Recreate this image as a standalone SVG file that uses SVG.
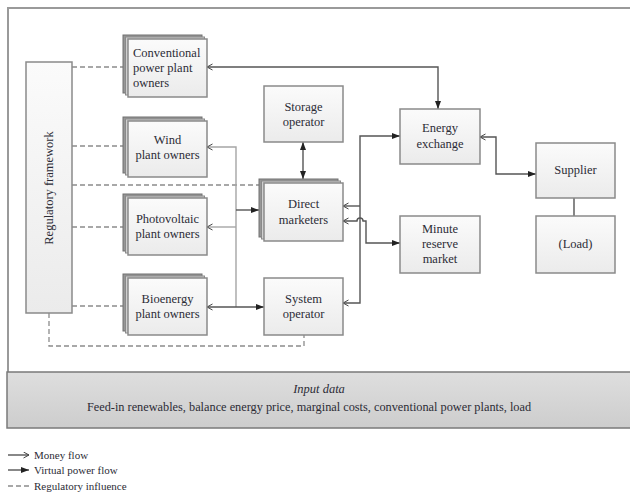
<svg xmlns="http://www.w3.org/2000/svg" width="630" height="495" viewBox="0 0 630 495">
<defs>
<linearGradient id="boxg" x1="0" y1="0" x2="0" y2="1">
<stop offset="0" stop-color="#fbfbfb"/><stop offset="1" stop-color="#ebebeb"/>
</linearGradient>
<linearGradient id="bandg" x1="0" y1="0" x2="0" y2="1">
<stop offset="0" stop-color="#dedede"/><stop offset="1" stop-color="#cdcdcd"/>
</linearGradient>
<marker id="af" markerUnits="userSpaceOnUse" markerWidth="10" markerHeight="8" refX="8" refY="3" orient="auto-start-reverse">
<path d="M0,0 L8,3 L0,6 z" fill="#222"/>
</marker>
<marker id="ao" markerUnits="userSpaceOnUse" markerWidth="10" markerHeight="8" refX="6.5" refY="3.5" orient="auto-start-reverse">
<path d="M1,0.5 L6.5,3.5 L1,6.5" fill="none" stroke="#444" stroke-width="1"/>
</marker>
<style>
.box{fill:url(#boxg);stroke:#8a8a8a;stroke-width:1.5}
.b1{fill:#979797;stroke:#707070;stroke-width:1}
.b2{fill:#cfcfcf;stroke:#8a8a8a;stroke-width:1}
text{font-family:"Liberation Serif","DejaVu Serif",serif;font-size:12.5px;fill:#2c2c36}
.c{text-anchor:middle}
.pw{fill:none;stroke:#555;stroke-width:1.4}
.mn{fill:none;stroke:#a5a5a5;stroke-width:1.4}
.rg{fill:none;stroke:#8c8c8c;stroke-width:1.3;stroke-dasharray:5,3}
</style>
</defs>
<rect x="0" y="0" width="630" height="495" fill="#fff"/>
<path d="M8,372 V8 H632" fill="none" stroke="#9a9a9a" stroke-width="2"/>

<g id="connectors">
<path class="rg" d="M72,67 H123"/>
<path class="rg" d="M72,146 H123"/>
<path class="rg" d="M72,185 H259"/>
<path class="rg" d="M72,227 H123"/>
<path class="rg" d="M72,306 H123"/>
<path class="rg" d="M49,313 V346 H304 V335"/>
<path class="pw" d="M207,67 H438 V109" marker-start="url(#ao)" marker-end="url(#af)"/>
<path class="pw" d="M303,142 V179" marker-start="url(#af)" marker-end="url(#af)"/>
<path class="mn" d="M207,147 H236 V307" marker-start="url(#ao)"/>
<path class="mn" d="M236,227 H207" marker-end="url(#ao)"/>
<path class="pw" d="M236,210 H259" marker-end="url(#af)"/>
<path class="pw" d="M207,307 H264" marker-start="url(#ao)" marker-end="url(#af)"/>
<path class="pw" d="M343,303 H360 V136 H400" marker-start="url(#ao)" marker-end="url(#af)"/>
<path class="pw" d="M360,206 H343" marker-end="url(#ao)"/>
<path class="pw" d="M343,221 H357 a3,3 0 0 1 6,0 H366 V243 H400" marker-start="url(#ao)" marker-end="url(#af)"/>
<path class="pw" d="M480,137 H496 V174 H536" marker-start="url(#ao)" marker-end="url(#af)"/>
<path class="pw" d="M574,198 V216"/>
</g>

<g id="regulatory">
<rect class="box" x="26" y="62" width="46" height="251"/>
<text class="c" transform="translate(53,188) rotate(-90)">Regulatory framework</text>
</g>

<g id="conventional">
<rect class="b1" x="123" y="35" width="79" height="58"/>
<rect class="b2" x="125.5" y="37" width="79" height="58"/>
<rect class="box" x="128" y="39" width="79" height="58"/>
<text x="133" y="57">Conventional</text>
<text x="133" y="72">power plant</text>
<text x="133" y="87">owners</text>
</g>

<g id="wind">
<rect class="b1" x="123" y="117" width="79" height="56"/>
<rect class="b2" x="125.5" y="119" width="79" height="56"/>
<rect class="box" x="128" y="121" width="79" height="56"/>
<text class="c" x="167.5" y="144">Wind</text>
<text class="c" x="167.5" y="159">plant owners</text>
</g>

<g id="photovoltaic">
<rect class="b1" x="123" y="194" width="79" height="57"/>
<rect class="b2" x="125.5" y="196" width="79" height="57"/>
<rect class="box" x="128" y="198" width="79" height="57"/>
<text class="c" x="167.5" y="223">Photovoltaic</text>
<text class="c" x="167.5" y="238">plant owners</text>
</g>

<g id="bioenergy">
<rect class="b1" x="123" y="274" width="79" height="57"/>
<rect class="b2" x="125.5" y="276" width="79" height="57"/>
<rect class="box" x="128" y="278" width="79" height="57"/>
<text class="c" x="167.5" y="303">Bioenergy</text>
<text class="c" x="167.5" y="318">plant owners</text>
</g>

<g id="storage">
<rect class="box" x="264" y="86" width="79" height="56"/>
<text class="c" x="303.5" y="111">Storage</text>
<text class="c" x="303.5" y="126">operator</text>
</g>

<g id="direct">
<rect class="b1" x="259" y="179" width="79" height="58"/>
<rect class="b2" x="261.5" y="181" width="79" height="58"/>
<rect class="box" x="264" y="183" width="79" height="58"/>
<text class="c" x="303.5" y="208">Direct</text>
<text class="c" x="303.5" y="224">marketers</text>
</g>

<g id="system">
<rect class="box" x="264" y="278" width="79" height="57"/>
<text class="c" x="303.5" y="303">System</text>
<text class="c" x="303.5" y="318">operator</text>
</g>

<g id="exchange">
<rect class="box" x="400" y="109" width="80" height="55"/>
<text class="c" x="440" y="132">Energy</text>
<text class="c" x="440" y="148">exchange</text>
</g>

<g id="minute">
<rect class="box" x="400" y="216" width="80" height="57"/>
<text class="c" x="440" y="233">Minute</text>
<text class="c" x="440" y="248">reserve</text>
<text class="c" x="440" y="263">market</text>
</g>

<g id="supplier">
<rect class="box" x="536" y="143" width="79" height="55"/>
<text class="c" x="575.5" y="174">Supplier</text>
</g>

<g id="load">
<rect class="box" x="536" y="216" width="79" height="57"/>
<text class="c" x="575.5" y="248">(Load)</text>
</g>

<g id="input">
<rect x="7" y="372" width="630" height="56" fill="url(#bandg)" stroke="#7a7a7a" stroke-width="1.5"/>
<text class="c" x="319" y="393" font-style="italic">Input data</text>
<text class="c" x="309" y="411" style="font-size:12.3px">Feed-in renewables, balance energy price, marginal costs, conventional power plants, load</text>
</g>

<g id="legend">
<path class="pw" d="M8,455 H29" marker-end="url(#ao)"/>
<text x="34" y="459" style="font-size:11px">Money flow</text>
<path class="pw" d="M8,470 H29" marker-end="url(#af)"/>
<text x="34" y="474" style="font-size:11px">Virtual power flow</text>
<path class="rg" d="M8,486 H29"/>
<text x="34" y="490" style="font-size:11px">Regulatory influence</text>
</g>
</svg>
